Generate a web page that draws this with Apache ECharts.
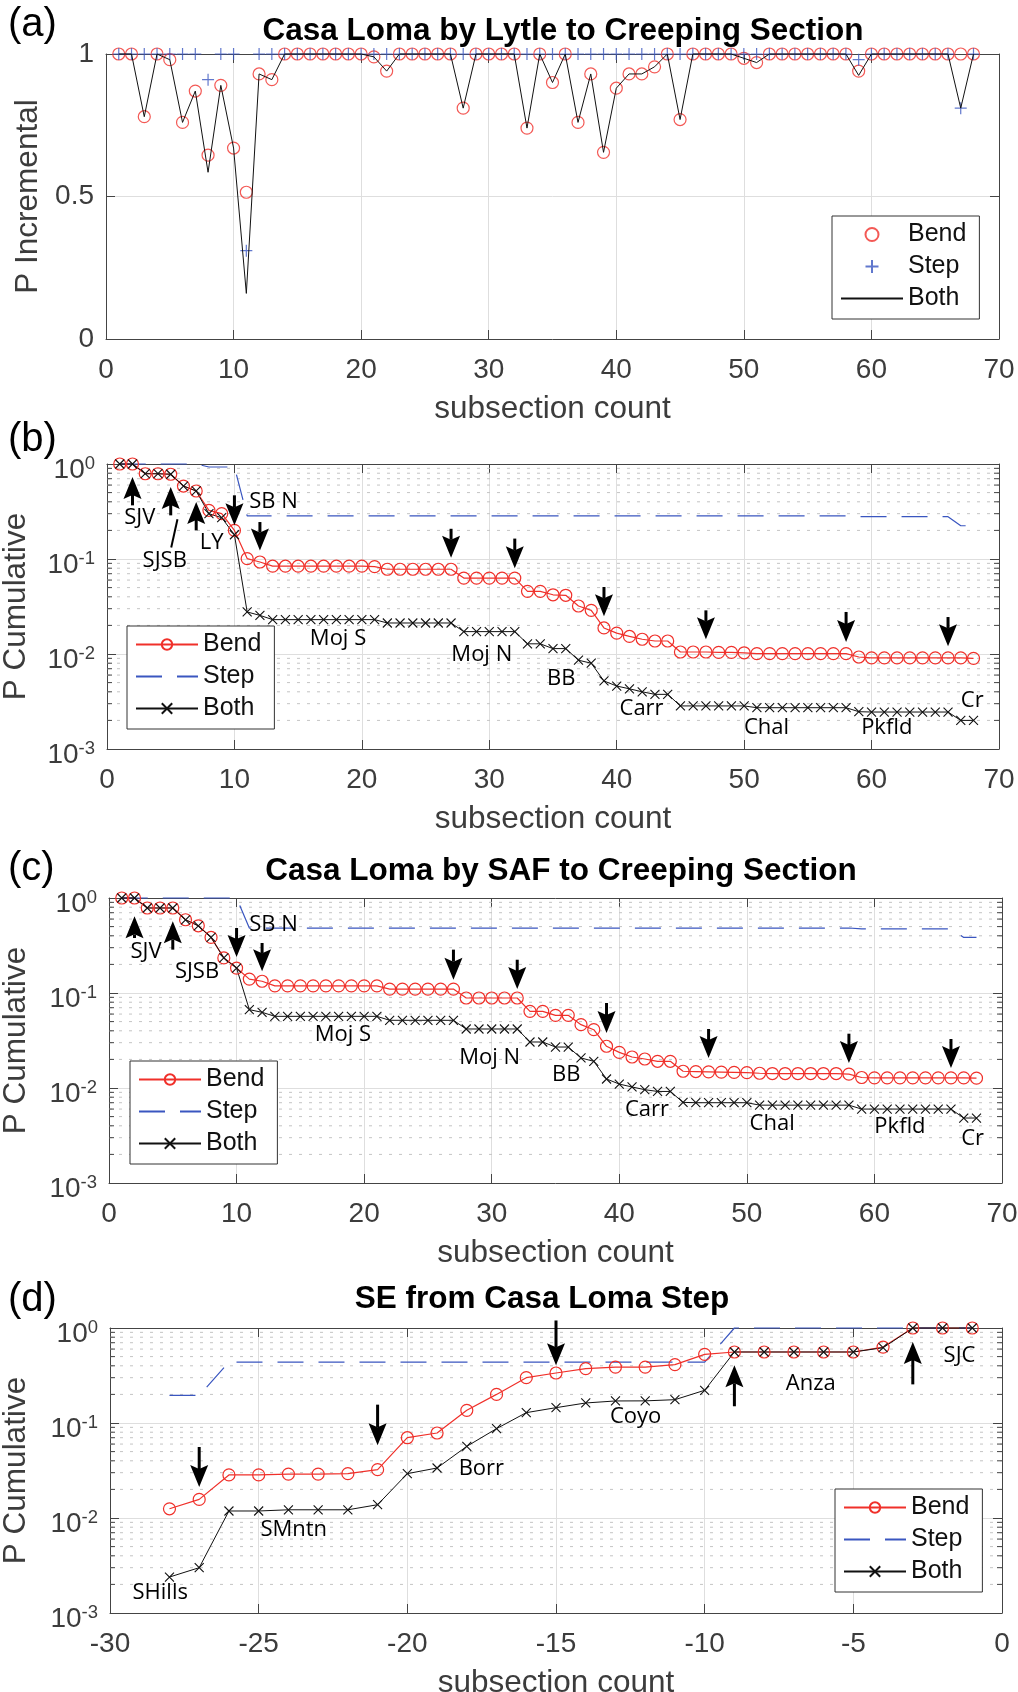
<!DOCTYPE html>
<html>
<head>
<meta charset="utf-8">
<script src="https://cdn.jsdelivr.net/npm/echarts@6/dist/echarts.min.js"></script>
<style>
html, body { margin: 0; background: #fff; }
#main { width: 1018px; height: 1692px; }
</style>
</head>
<body>
<div id="main"></div>
<script>
// subsection counts
var subsection = [1, 2, 3, 4, 5, 6, 7, 8, 9, 10, 11, 12, 13, 14, 15, 16, 17, 18, 19, 20,
  21, 22, 23, 24, 25, 26, 27, 28, 29, 30, 31, 32, 33, 34, 35, 36, 37, 38, 39, 40,
  41, 42, 43, 44, 45, 46, 47, 48, 49, 50, 51, 52, 53, 54, 55, 56, 57, 58, 59, 60,
  61, 62, 63, 64, 65, 66, 67, 68];
var seCount = [-28, -27, -26, -25, -24, -23, -22, -21, -20, -19, -18, -17, -16, -15,
  -14, -13, -12, -11, -10, -9, -8, -7, -6, -5, -4, -3, -2, -1];

// (a) incremental, Lytle route
var incBend = [1, 1, 0.78, 1, 0.98, 0.76, 0.87, 0.645, 0.89, 0.67,
  0.515, 0.93, 0.91, 1, 1, 1, 1, 1, 1, 1,
  0.99, 0.94, 1, 1, 1, 1, 1, 0.81, 1, 1,
  1, 1, 0.74, 1, 0.9, 1, 0.76, 0.93, 0.655, 0.88,
  0.93, 0.93, 0.955, 1, 0.77, 1, 1, 1, 1, 0.985,
  0.97, 1, 1, 1, 1, 1, 1, 1, 0.94, 1,
  1, 1, 1, 1, 1, 1, 1, 1];
var incStep = [1, 1, 1, 1, 1, 1, 1, 0.91, 1, 1,
  0.31, 1, 1, 1, 1, 1, 1, 1, 1, 1,
  1, 1, 1, 1, 1, 1, 1, 1, 1, 1,
  1, 1, 1, 1, 1, 1, 1, 1, 1, 1,
  1, 1, 1, 1, 1, 1, 1, 1, 1, 1,
  1, 1, 1, 1, 1, 1, 1, 1, 0.98, 1,
  1, 1, 1, 1, 1, 1, 0.81, 1];
var incBoth = [1, 1, 0.78, 1, 0.98, 0.76, 0.87, 0.585, 0.89, 0.67,
  0.16, 0.93, 0.91, 1, 1, 1, 1, 1, 1, 1,
  0.99, 0.94, 1, 1, 1, 1, 1, 0.81, 1, 1,
  1, 1, 0.74, 1, 0.9, 1, 0.76, 0.93, 0.655, 0.88,
  0.93, 0.93, 0.955, 1, 0.77, 1, 1, 1, 1, 0.985,
  0.97, 1, 1, 1, 1, 1, 1, 1, 0.925, 1,
  1, 1, 1, 1, 1, 1, 0.81, 1];

// (b) cumulative, Lytle route
var lytBend = [1, 1, 0.79, 0.79, 0.78, 0.586, 0.52, 0.325, 0.30, 0.20,
  0.101, 0.093, 0.084, 0.084, 0.084, 0.084, 0.084, 0.084, 0.084, 0.084,
  0.083, 0.078, 0.078, 0.078, 0.078, 0.078, 0.078, 0.063, 0.063, 0.063,
  0.063, 0.063, 0.0457, 0.0457, 0.042, 0.0415, 0.032, 0.0288, 0.0188, 0.0166,
  0.0153, 0.0143, 0.0137, 0.0137, 0.0105, 0.0105, 0.0105, 0.0104, 0.0104, 0.0103,
  0.0101, 0.0101, 0.0101, 0.0101, 0.0101, 0.0101, 0.0101, 0.0101, 0.0093, 0.0091,
  0.0091, 0.0091, 0.0091, 0.0091, 0.0091, 0.0091, 0.0091, 0.009];
var lytStep = [1, 1, 1, 1, 1, 1, 1, 0.93, 0.93, 0.93,
  0.284, 0.284, 0.284, 0.284, 0.284, 0.284, 0.284, 0.284, 0.284, 0.284,
  0.284, 0.284, 0.284, 0.284, 0.284, 0.284, 0.284, 0.284, 0.284, 0.284,
  0.284, 0.284, 0.284, 0.284, 0.284, 0.284, 0.284, 0.284, 0.284, 0.284,
  0.284, 0.284, 0.284, 0.284, 0.284, 0.284, 0.284, 0.284, 0.284, 0.284,
  0.284, 0.284, 0.284, 0.284, 0.284, 0.284, 0.284, 0.284, 0.279, 0.279,
  0.279, 0.279, 0.279, 0.279, 0.279, 0.279, 0.224, 0.224];
var lytBoth = [1, 1, 0.79, 0.79, 0.78, 0.586, 0.52, 0.30, 0.272, 0.18,
  0.0277, 0.0255, 0.023, 0.023, 0.023, 0.023, 0.023, 0.023, 0.023, 0.023,
  0.023, 0.0212, 0.0212, 0.0212, 0.0212, 0.0212, 0.0212, 0.0172, 0.0172, 0.0172,
  0.0172, 0.0172, 0.0128, 0.0128, 0.0114, 0.0114, 0.0086, 0.008, 0.0052, 0.0046,
  0.0043, 0.004, 0.00376, 0.00376, 0.00284, 0.00284, 0.00284, 0.00284, 0.00284, 0.00284,
  0.00272, 0.00272, 0.00272, 0.00272, 0.00272, 0.00272, 0.00272, 0.00272, 0.00247, 0.00245,
  0.00245, 0.00245, 0.00245, 0.00245, 0.00245, 0.00245, 0.002, 0.002];

// (c) cumulative, SAF route
var safBend = [1, 1, 0.785, 0.785, 0.785, 0.59, 0.51, 0.385, 0.234, 0.183,
  0.14, 0.133, 0.119, 0.119, 0.119, 0.119, 0.119, 0.119, 0.119, 0.119,
  0.119, 0.11, 0.11, 0.11, 0.11, 0.11, 0.11, 0.0886, 0.0886, 0.0886,
  0.0886, 0.0886, 0.0641, 0.0641, 0.0582, 0.0582, 0.0464, 0.0411, 0.0275, 0.0237,
  0.0212, 0.0202, 0.0191, 0.0191, 0.015, 0.0149, 0.0148, 0.0147, 0.0146, 0.0145,
  0.0143, 0.0142, 0.0142, 0.0142, 0.0142, 0.0142, 0.0142, 0.014, 0.0129, 0.0128,
  0.0128, 0.0128, 0.0128, 0.0128, 0.0128, 0.0128, 0.0128, 0.0127];
var safStep = [1, 1, 1, 1, 1, 1, 1, 1, 1, 1,
  0.483, 0.483, 0.483, 0.483, 0.483, 0.483, 0.483, 0.483, 0.483, 0.483,
  0.483, 0.483, 0.483, 0.483, 0.483, 0.483, 0.483, 0.483, 0.483, 0.483,
  0.483, 0.483, 0.483, 0.483, 0.483, 0.483, 0.483, 0.483, 0.483, 0.483,
  0.483, 0.483, 0.483, 0.483, 0.483, 0.483, 0.483, 0.483, 0.483, 0.483,
  0.483, 0.483, 0.483, 0.483, 0.483, 0.483, 0.483, 0.483, 0.473, 0.473,
  0.473, 0.473, 0.473, 0.473, 0.473, 0.473, 0.385, 0.385];
var safBoth = [1, 1, 0.785, 0.785, 0.785, 0.59, 0.51, 0.385, 0.234, 0.183,
  0.0668, 0.0626, 0.0568, 0.0568, 0.0568, 0.0568, 0.0568, 0.0568, 0.0568, 0.0568,
  0.0568, 0.0516, 0.0516, 0.0516, 0.0516, 0.0516, 0.0516, 0.0418, 0.0418, 0.0418,
  0.0418, 0.0418, 0.0305, 0.0305, 0.027, 0.027, 0.0207, 0.0191, 0.01244, 0.011,
  0.01025, 0.0096, 0.0092, 0.0092, 0.00706, 0.007, 0.007, 0.007, 0.007, 0.007,
  0.0066, 0.0066, 0.0066, 0.0066, 0.0066, 0.0066, 0.0066, 0.0066, 0.006, 0.006,
  0.006, 0.006, 0.006, 0.006, 0.006, 0.006, 0.00483, 0.00483];

// (d) SE from Casa Loma step
var seBend = [0.0125, 0.0157, 0.0284, 0.0284, 0.029, 0.029, 0.0293, 0.0323, 0.070, 0.0785,
  0.136, 0.20, 0.30, 0.336, 0.373, 0.388, 0.388, 0.411, 0.528, 0.559,
  0.559, 0.559, 0.559, 0.559, 0.63, 1, 1, 1];
var seStep = [0.195, 0.195, 0.438, 0.438, 0.438, 0.438, 0.438, 0.438, 0.438, 0.438,
  0.438, 0.438, 0.438, 0.438, 0.438, 0.438, 0.438, 0.438, 0.438, 1,
  1, 1, 1, 1, 1, 1, 1, 1];
var seBoth = [0.00239, 0.003, 0.01185, 0.01185, 0.0122, 0.0122, 0.0122, 0.0138, 0.0293, 0.0336,
  0.0568, 0.0872, 0.1285, 0.145, 0.1625, 0.1706, 0.171, 0.176, 0.221, 0.559,
  0.559, 0.559, 0.559, 0.559, 0.62, 1, 1, 1];

// annotation arrows: [x, tail value, tip value]
var lytArrows = [[2, 0.367, 0.73], [5, 0.288, 0.573], [7, 0.2, 0.398], [10, 0.468, 0.226],
  [12, 0.245, 0.123], [27, 0.208, 0.103], [32, 0.164, 0.080], [39, 0.0507, 0.0249],
  [47, 0.0288, 0.01427], [58, 0.0277, 0.01337], [66, 0.0245, 0.01205]];
var safArrows = [[2, 0.379, 0.641], [5, 0.286, 0.568], [10, 0.483, 0.239], [12, 0.336, 0.169],
  [27, 0.286, 0.138], [32, 0.224, 0.110], [39, 0.0785, 0.0379], [47, 0.0418, 0.0207],
  [58, 0.0373, 0.0183], [66, 0.0328, 0.0162]];
var seArrows = [[-27, 0.0559, 0.0212], [-21, 0.156, 0.0582], [-15, 1.2, 0.405],
  [-9, 0.15, 0.405], [-3, 0.255, 0.713]];

// section names: [x, value, text]
var lytLabels = [[2.57, 0.275, 'SJV'], [4.53, 0.0969, 'SJSB'], [8.21, 0.15, 'LY'], [13.07, 0.405, 'SB N'],
  [18.13, 0.0146, 'Moj S'], [29.41, 0.0099, 'Moj N'], [35.64, 0.00555, 'BB'], [41.95, 0.00263, 'Carr'],
  [51.75, 0.00169, 'Chal'], [61.19, 0.00169, 'Pkfld'], [67.9, 0.00326, 'Cr']];
var lytLeader = [[5.53, 0.262, 5.04, 0.132]];
var safLabels = [[2.9, 0.274, 'SJV'], [6.9, 0.169, 'SJSB'], [12.9, 0.517, 'SB N'], [18.33, 0.0364, 'Moj S'],
  [29.84, 0.0208, 'Moj N'], [35.84, 0.01365, 'BB'], [42.17, 0.00591, 'Carr'], [51.98, 0.00421, 'Chal'],
  [62.0, 0.00391, 'Pkfld'], [67.7, 0.00295, 'Cr']];
var seLabels = [[-28.31, 0.00163, 'SHills'], [-23.82, 0.0076, 'SMntn'], [-17.51, 0.0331, 'Borr'],
  [-12.32, 0.1167, 'Coyo'], [-6.43, 0.26, 'Anza'], [-1.43, 0.516, 'SJC']];

var SANS = "'Liberation Sans', Arial, sans-serif";
var LBL = "'Open Sans', sans-serif";
var AX = '#3c3c3c';
var FRAME = '#444';
var RED = '#f0302a';
var BLUE = '#3a56c0';
var BLACK = '#111';
var PLUS = 'path://M5,0L5,10M0,5L10,5';
var CROSS = 'path://M0,0L10,10M0,10L10,0';

var myChart = echarts.init(document.getElementById('main'));

var boxes = [
  {left: 106, top: 54, width: 893, height: 285},
  {left: 107, top: 464, width: 892, height: 285},
  {left: 109, top: 898, width: 893, height: 285},
  {left: 110, top: 1328, width: 892, height: 285}
];

function pairs(xs, ys) {
  return xs.map(function (x, k) { return [x, ys[k]]; });
}

var minorVals = [];
[0.001, 0.01, 0.1].forEach(function (d) {
  for (var m = 2; m <= 9; m++) minorVals.push(+(m * d).toPrecision(2));
});

function bottomAxis(i, min, max, step) {
  return {
    type: 'value', gridIndex: i, min: min, max: max, interval: step, position: 'bottom',
    name: 'subsection count', nameLocation: 'middle', nameGap: 54,
    nameTextStyle: {fontSize: 31.5, color: AX, fontFamily: SANS},
    axisLine: {show: true, onZero: false, lineStyle: {color: FRAME, width: 1}},
    axisTick: {show: true, inside: true, length: 9, lineStyle: {color: FRAME}},
    axisLabel: {fontSize: 28, color: AX, fontFamily: SANS, margin: 17},
    splitLine: {show: true, lineStyle: {color: '#dedede', width: 1}}
  };
}
function topAxis(i, min, max, step) {
  return {
    type: 'value', gridIndex: i, min: min, max: max, interval: step, position: 'top',
    axisLine: {show: true, onZero: false, lineStyle: {color: FRAME, width: 1}},
    axisTick: {show: true, inside: true, length: 9, lineStyle: {color: FRAME}},
    axisLabel: {show: false}, splitLine: {show: false}
  };
}
function logLeft(i, gap) {
  return {
    type: 'log', logBase: 10, gridIndex: i, min: 0.001, max: 1, position: 'left',
    name: 'P Cumulative', nameLocation: 'middle', nameGap: gap,
    nameTextStyle: {fontSize: 31.5, color: AX, fontFamily: SANS},
    axisLine: {show: true, onZero: false, lineStyle: {color: FRAME, width: 1}},
    axisTick: {show: true, inside: true, length: 9, lineStyle: {color: FRAME}},
    axisLabel: {
      margin: 12, showMinLabel: true, showMaxLabel: true, padding: [12, 0, 0, 0],
      formatter: function (v) { return '{b|10}{e|' + Math.round(Math.log10(v)) + '}'; },
      rich: {
        b: {fontSize: 28, lineHeight: 32, color: AX, fontFamily: SANS},
        e: {fontSize: 18.5, lineHeight: 18, verticalAlign: 'top', color: AX, fontFamily: SANS}
      }
    },
    splitLine: {show: true, lineStyle: {color: '#dedede', width: 1}}
  };
}
function logRight(i) {
  return {
    type: 'log', logBase: 10, gridIndex: i, min: 0.001, max: 1, position: 'right',
    axisLine: {show: true, onZero: false, lineStyle: {color: FRAME, width: 1}},
    axisTick: {show: true, inside: true, length: 9, lineStyle: {color: FRAME}},
    axisLabel: {show: false}, splitLine: {show: false}
  };
}

function renderMinor(params, api) {
  var cs = params.coordSys;
  var y = api.coord([api.value(0), api.value(1)])[1];
  var l = cs.x, r = cs.x + cs.width;
  return {type: 'group', silent: true, children: [
    {type: 'line', shape: {x1: l, y1: y, x2: r, y2: y}, style: {stroke: '#c4c4c4', lineWidth: 1, lineDash: [3, 7]}},
    {type: 'line', shape: {x1: l, y1: y, x2: l + 5, y2: y}, style: {stroke: FRAME, lineWidth: 1}},
    {type: 'line', shape: {x1: r - 5, y1: y, x2: r, y2: y}, style: {stroke: FRAME, lineWidth: 1}}
  ]};
}

function renderArrow(params, api) {
  var p = api.coord([api.value(0), api.value(1)]);
  var q = api.coord([api.value(0), api.value(2)]);
  var dir = q[1] > p[1] ? 1 : -1;
  var back = q[1] - dir * 22;
  var notch = q[1] - dir * 18;
  return {type: 'group', children: [
    {type: 'line', shape: {x1: p[0], y1: p[1], x2: q[0], y2: notch}, style: {stroke: '#000', lineWidth: 3}},
    {type: 'polygon', shape: {points: [[q[0], q[1]], [q[0] - 9, back], [q[0], notch], [q[0] + 9, back]]}, style: {fill: '#000'}}
  ]};
}

function labelRenderer(list) {
  return function (params, api) {
    var p = api.coord([api.value(0), api.value(1)]);
    return {type: 'text', x: p[0], y: p[1], style: {
      text: list[params.dataIndex][2], fill: '#000', fontSize: 22, fontFamily: LBL,
      align: 'center', verticalAlign: 'middle'}};
  };
}

function renderLeader(params, api) {
  var p = api.coord([api.value(0), api.value(1)]);
  var q = api.coord([api.value(2), api.value(3)]);
  return {type: 'line', shape: {x1: p[0], y1: p[1], x2: q[0], y2: q[1]}, style: {stroke: '#000', lineWidth: 2}};
}

function cumulSeries(i, tag, xs, bend, step, both, arrows, labels, xmin) {
  return [
    {type: 'custom', name: 'minor' + tag, xAxisIndex: i, yAxisIndex: i, z: 1, silent: true,
      renderItem: renderMinor, encode: {x: 0, y: 1},
      data: minorVals.map(function (v) { return [xmin, v]; })},
    {type: 'line', name: 'Bend ' + tag, xAxisIndex: i, yAxisIndex: i, data: pairs(xs, bend),
      symbol: 'circle', symbolSize: 12, showAllSymbol: true, clip: false,
      itemStyle: {color: 'transparent', borderColor: RED, borderWidth: 1.2},
      lineStyle: {color: RED, width: 1.2}},
    {type: 'line', name: 'Step ' + tag, xAxisIndex: i, yAxisIndex: i, data: pairs(xs, step),
      symbol: 'none', clip: false, itemStyle: {color: 'transparent', borderWidth: 0},
      lineStyle: {color: BLUE, width: 1.2, type: [26, 15]}},
    {type: 'line', name: 'Both ' + tag, xAxisIndex: i, yAxisIndex: i, data: pairs(xs, both),
      symbol: CROSS, symbolSize: 9, showAllSymbol: true, clip: false,
      itemStyle: {color: 'transparent', borderColor: BLACK, borderWidth: 1.1},
      lineStyle: {color: BLACK, width: 1}},
    {type: 'custom', name: 'arrows' + tag, xAxisIndex: i, yAxisIndex: i, z: 5, silent: true,
      renderItem: renderArrow, encode: {x: 0, y: [1, 2]}, data: arrows},
    {type: 'custom', name: 'labels' + tag, xAxisIndex: i, yAxisIndex: i, z: 5, silent: true,
      renderItem: labelRenderer(labels), encode: {x: 0, y: 1},
      data: labels.map(function (l) { return [l[0], l[1]]; })}
  ];
}

function legendAt(left, top, tag) {
  return {
    left: left, top: top, orient: 'vertical', selectedMode: false,
    data: ['Bend ' + tag, 'Step ' + tag, 'Both ' + tag],
    itemWidth: 62, itemHeight: 13, itemGap: 7, padding: [6, 13, 8, 8],
    borderColor: '#333', borderWidth: 1, backgroundColor: '#fff',
    textStyle: {fontSize: 25, lineHeight: 25, fontFamily: SANS, color: '#111'},
    formatter: function (n) { return n.split(' ')[0]; }
  };
}

var series = [
  {type: 'scatter', name: 'Bend (a)', xAxisIndex: 0, yAxisIndex: 0, data: pairs(subsection, incBend),
    symbol: 'circle', symbolSize: 12, clip: false,
    itemStyle: {color: 'transparent', borderColor: RED, borderWidth: 1.2}},
  {type: 'scatter', name: 'Step (a)', xAxisIndex: 0, yAxisIndex: 0, data: pairs(subsection, incStep),
    symbol: PLUS, symbolSize: 12, clip: false,
    itemStyle: {color: 'transparent', borderColor: BLUE, borderWidth: 1.2}},
  {type: 'line', name: 'Both (a)', xAxisIndex: 0, yAxisIndex: 0, data: pairs(subsection, incBoth),
    symbol: 'none', clip: false, itemStyle: {color: 'transparent', borderWidth: 0},
    lineStyle: {color: BLACK, width: 1}}
];
series = series
  .concat(cumulSeries(1, '(b)', subsection, lytBend, lytStep, lytBoth, lytArrows, lytLabels, 0))
  .concat(cumulSeries(2, '(c)', subsection, safBend, safStep, safBoth, safArrows, safLabels, 0))
  .concat(cumulSeries(3, '(d)', seCount, seBend, seStep, seBoth, seArrows, seLabels, -30));
series.push({type: 'custom', name: 'leader', xAxisIndex: 1, yAxisIndex: 1, z: 5, silent: true,
  renderItem: renderLeader, encode: {x: [0, 2], y: [1, 3]}, data: lytLeader});

function txt(x, y, s, size, weight, align) {
  return {type: 'text', x: x, y: y, z: 10, style: {text: s, fontSize: size, fontWeight: weight,
    fontFamily: SANS, fill: '#000', align: align, verticalAlign: 'middle'}};
}

var option = {
  animation: false,
  backgroundColor: '#fff',
  grid: boxes.map(function (b) {
    // keep the plot boxes exactly where they are, even if the axis name runs off the page
    return {left: b.left, top: b.top, width: b.width, height: b.height, show: false,
      containLabel: false, outerBoundsMode: 'none'};
  }),
  xAxis: [
    bottomAxis(0, 0, 70, 10), bottomAxis(1, 0, 70, 10), bottomAxis(2, 0, 70, 10), bottomAxis(3, -30, 0, 5),
    topAxis(0, 0, 70, 10), topAxis(1, 0, 70, 10), topAxis(2, 0, 70, 10), topAxis(3, -30, 0, 5)
  ],
  yAxis: [
    {type: 'value', gridIndex: 0, min: 0, max: 1, interval: 0.5, position: 'left',
      name: 'P Incremental', nameLocation: 'middle', nameGap: 57,
      nameTextStyle: {fontSize: 31.5, color: AX, fontFamily: SANS},
      axisLine: {show: true, onZero: false, lineStyle: {color: FRAME, width: 1}},
      axisTick: {show: true, inside: true, length: 9, lineStyle: {color: FRAME}},
      axisLabel: {fontSize: 28, color: AX, fontFamily: SANS, margin: 12},
      splitLine: {show: true, lineStyle: {color: '#dedede', width: 1}}},
    logLeft(1, 75), logLeft(2, 77), logLeft(3, 78),
    {type: 'value', gridIndex: 0, min: 0, max: 1, interval: 0.5, position: 'right',
      axisLine: {show: true, onZero: false, lineStyle: {color: FRAME, width: 1}},
      axisTick: {show: true, inside: true, length: 9, lineStyle: {color: FRAME}},
      axisLabel: {show: false}, splitLine: {show: false}},
    logRight(1), logRight(2), logRight(3)
  ],
  legend: [
    legendAt(832, 216, '(a)'),
    legendAt(127, 626, '(b)'),
    legendAt(130, 1061, '(c)'),
    legendAt(835, 1489, '(d)')
  ],
  graphic: [
    txt(8, 25, '(a)', 40, 'normal', 'left'),
    txt(8, 440, '(b)', 40, 'normal', 'left'),
    txt(8, 869, '(c)', 40, 'normal', 'left'),
    txt(8, 1300, '(d)', 40, 'normal', 'left'),
    txt(563, 31, 'Casa Loma by Lytle to Creeping Section', 31.5, 'bold', 'center'),
    txt(561, 871, 'Casa Loma by SAF to Creeping Section', 31.5, 'bold', 'center'),
    txt(542, 1299, 'SE from Casa Loma Step', 31.5, 'bold', 'center')
  ],
  series: series
};

myChart.setOption(option);
</script>
</body>
</html>
